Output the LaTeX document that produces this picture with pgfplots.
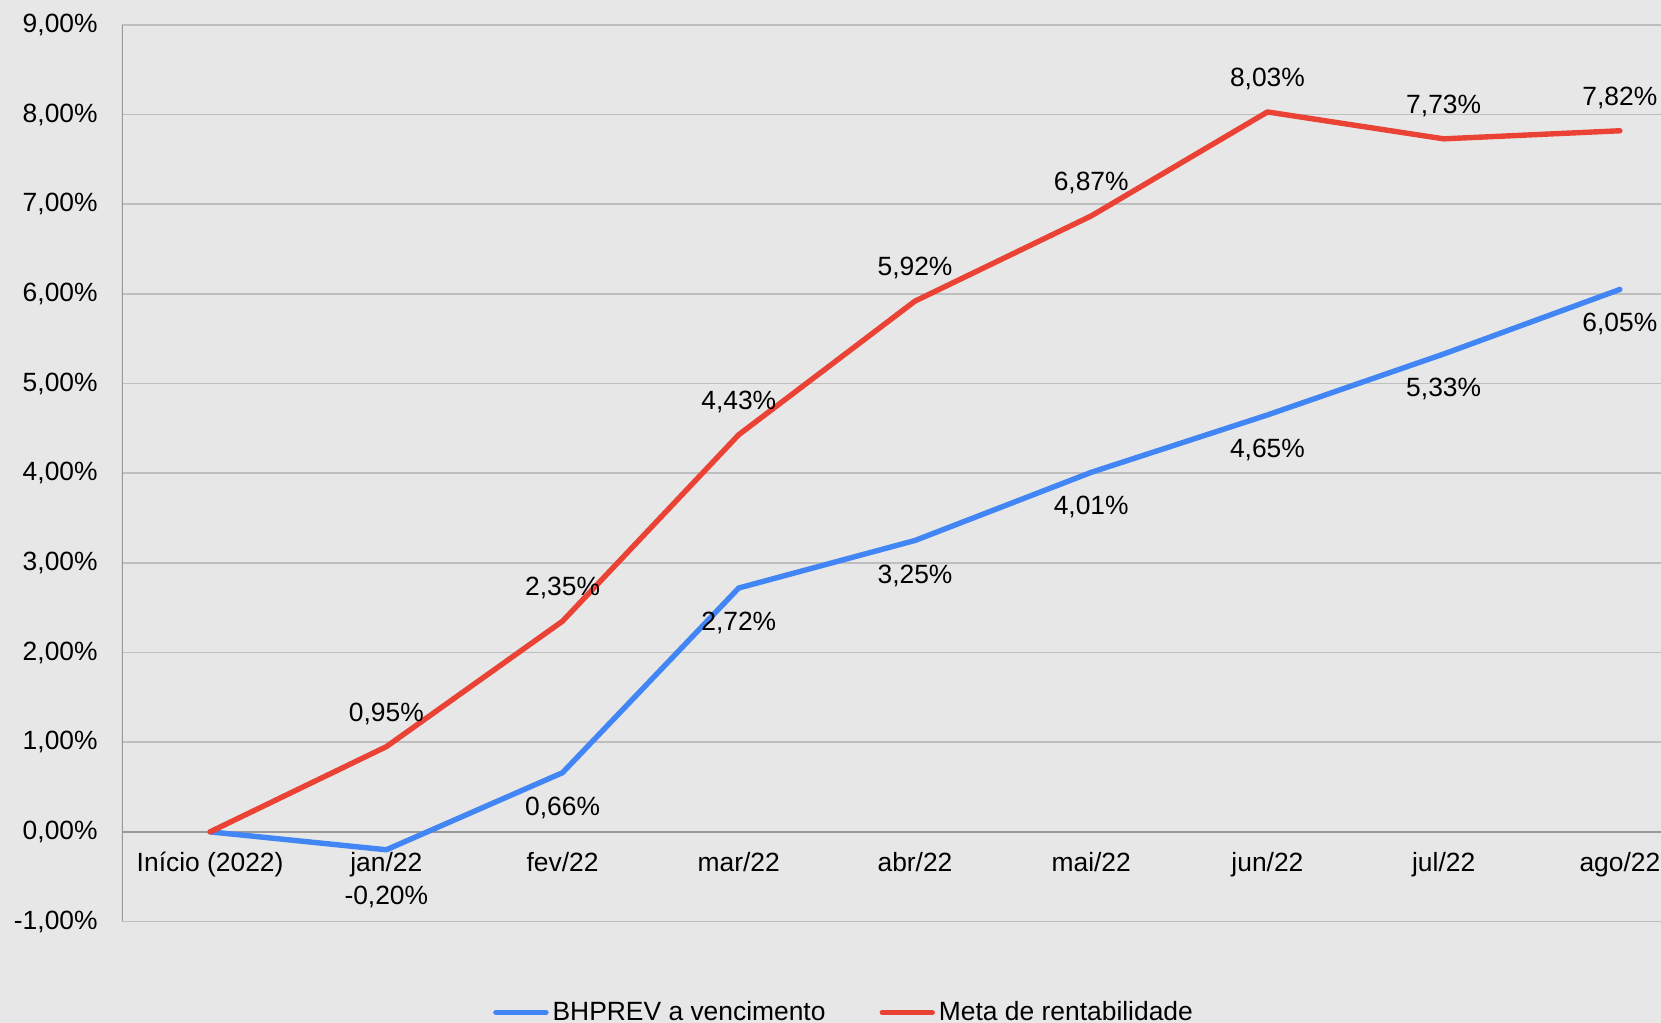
\documentclass[border=0pt]{standalone}
\usepackage{fontspec}
\setmainfont{Liberation Sans}
\usepackage{pgfplots}
\pgfplotsset{compat=1.18}
\usepackage{pgfplotstable}

\definecolor{bg}{HTML}{E7E7E7}
\definecolor{gridc}{HTML}{BEBEBE}
\definecolor{axc}{HTML}{999999}
\definecolor{bhblue}{HTML}{4285F4}
\definecolor{metared}{HTML}{EA4335}

% off = vertical shift of the value label (pt); 0 = no label
\pgfplotstableread{
x y off
0 0.00 0
1 -0.20 -23.8
2 0.66 -17.5
3 2.72 -17.5
4 3.25 -17.5
5 4.01 -17.5
6 4.65 -17.5
7 5.33 -17.5
8 6.05 -17.5
}\bhprev

\pgfplotstableread{
x y off
0 0.00 0
1 0.95 16.5
2 2.35 16.5
3 4.43 16.5
4 5.92 16.5
5 6.87 16.5
6 8.03 16.5
7 7.73 16.5
8 7.82 16.5
}\meta

\newcommand{\fs}{\fontsize{13.2}{15.8}\selectfont}

\begin{document}
\begin{tikzpicture}
\fill[bg] (-61pt,-50.75pt) rectangle (769.5pt,460.75pt);
\path[use as bounding box] (-61pt,-50.75pt) rectangle (769.5pt,460.75pt);
\clip (-61pt,-50.75pt) rectangle (769.5pt,460.75pt);
\begin{axis}[
    at={(0pt,0pt)}, anchor=south west,
    scale only axis,
    width=793pt, height=448.25pt,
    xmin=-0.5, xmax=8.5,
    ymin=-1, ymax=9,
    xtick={0,...,8},
    xticklabels={Início (2022), jan/22, fev/22, mar/22, abr/22, mai/22, jun/22, jul/22, ago/22},
    ytick={-1,0,...,9},
    /pgf/number format/assume math mode=true,
    yticklabel={\pgfmathprintnumber[fixed,fixed zerofill,precision=2,use comma]{\tick}\%},
    major tick length=0pt,
    axis line style={draw=none},
    ymajorgrids,
    grid style={gridc, line width=0.8pt},
    tick label style={font=\fs, text=black},
    yticklabel style={anchor=east, inner sep=0pt, xshift=-12pt},
    xticklabel style={anchor=base, inner sep=0pt, yshift=24.75pt},
    legend style={at={(0.4559,0)}, anchor=center, yshift=-45.5pt,
        draw=none, fill=none, font=\fs, legend columns=2,
        /tikz/every even column/.append style={column sep=25pt}},
    legend image code/.code={\draw[#1, line width=2.7pt, line cap=round] (0pt,0pt) -- (25pt,0pt);},
    nodes near coords={\ifdim\off pt=0pt\else\pgfmathprintnumber[fixed,fixed zerofill,precision=2,use comma]{\pgfplotspointmeta}\%\fi},
    visualization depends on={\thisrow{off}\as\off},
    every node near coord/.append style={anchor=center, font=\fs, text=black, yshift=\off pt},
]
\draw[axc, line width=0.9pt] (axis cs:-0.5,0) -- (axis cs:8.5,0);
\draw[axc, line width=0.9pt] (axis cs:-0.5,-1) -- (axis cs:-0.5,9);
\addplot[bhblue, line width=2.7pt, line join=round, line cap=round, mark=none] table[x=x, y=y] {\bhprev};
\addplot[metared, line width=2.7pt, line join=round, line cap=round, mark=none] table[x=x, y=y] {\meta};
\legend{BHPREV a vencimento, Meta de rentabilidade}
\end{axis}
\end{tikzpicture}
\end{document}
